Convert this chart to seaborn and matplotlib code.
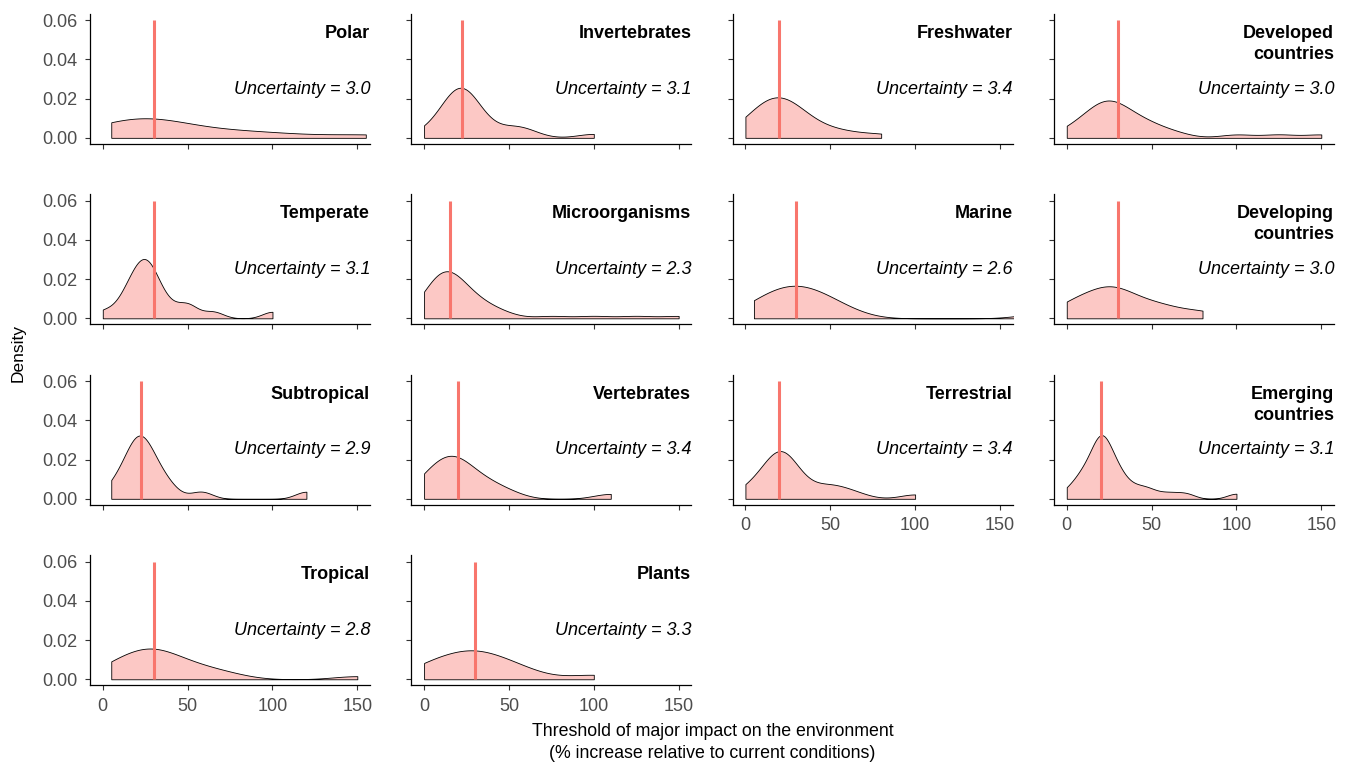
import numpy as np
import pandas as pd
import seaborn as sns
import matplotlib.pyplot as plt
from matplotlib.ticker import FormatStrFormatter

# ---------------- data ----------------
categories = ["Polar", "Invertebrates", "Freshwater", "Developed countries",
              "Temperate", "Microorganisms", "Marine", "Developing countries",
              "Subtropical", "Vertebrates", "Terrestrial", "Emerging countries",
              "Tropical", "Plants"]
panel_titles = ["Polar", "Invertebrates", "Freshwater", "Developed\ncountries",
                "Temperate", "Microorganisms", "Marine", "Developing\ncountries",
                "Subtropical", "Vertebrates", "Terrestrial", "Emerging\ncountries",
                "Tropical", "Plants"]
uncertainty = [3.0, 3.1, 3.4, 3.0, 3.1, 2.3, 2.6, 3.0, 2.9, 3.4, 3.4, 3.1, 2.8, 3.3]
median_line = [30, 22.5, 20, 30, 30, 15, 30, 30, 22.5, 20, 20, 20, 30, 30]
bandwidth = [25, 10, 12, 10, 6, 10, 14, 12, 6.5, 10, 9, 5.5, 14, 15]

polar = [5, 10, 20, 25, 30, 30, 50, 75, 100, 155]
invertebrates = [0, 10, 15, 15, 20, 20, 20, 20, 20, 20, 25, 25, 25, 30, 30, 35,
                 50, 55, 60, 100]
freshwater = [0, 5, 5, 10, 10, 15, 15, 20, 20, 20, 20, 25, 25, 30, 30, 35, 40,
              50, 60, 80]
developed = [0, 5, 10, 15, 15, 20, 20, 20, 25, 25, 25, 30, 30, 30, 35, 40, 40,
             45, 50, 55, 65, 100, 125, 150]
temperate = [0, 10, 15, 15, 20, 20, 20, 25, 25, 25, 25, 30, 30, 30, 35, 40,
             50, 50, 65, 100]
microorganisms = [0, 5, 5, 5, 5, 5, 10, 10, 10, 10, 10, 10, 15, 15, 15,
                  15, 15, 15, 20, 20, 20, 20, 25, 25, 30, 30, 35, 35, 45, 45,
                  75, 100, 125, 150]
marine = [5, 10, 15, 20, 25, 30, 30, 35, 40, 45, 50, 60, 175]
developing = [0, 5, 15, 20, 25, 30, 30, 40, 50, 60, 80]
subtropical = [5, 10, 15, 15, 20, 20, 20, 20, 25, 25, 25, 30, 30, 35, 40, 58, 120]
vertebrates = [0, 0, 5, 10, 10, 15, 15, 20, 20, 20, 25, 30, 35, 40, 50, 110]
terrestrial = [0, 5, 10, 15, 15, 20, 20, 20, 20, 20, 25, 25, 25, 30, 35, 45,
               50, 55, 65, 100]
emerging = [0, 5, 10, 10, 10, 15, 15, 20, 20, 20, 20, 20, 20, 20, 20, 25, 25,
            25, 30, 30, 30, 35, 40, 45, 50, 60, 70, 100]
tropical = [5, 5, 10, 15, 20, 25, 25, 30, 30, 30, 35, 40, 45, 50, 55, 65, 75, 150]
plants = [0, 5, 10, 20, 25, 30, 30, 35, 45, 50, 60, 100]

samples = [polar, invertebrates, freshwater, developed, temperate, microorganisms,
           marine, developing, subtropical, vertebrates, terrestrial, emerging,
           tropical, plants]

x_ticks = [0, 50, 100, 150]
y_ticks = [0.00, 0.02, 0.04, 0.06]

df = pd.DataFrame({
    "category": np.repeat(categories, [len(s) for s in samples]),
    "threshold": np.concatenate([np.asarray(s, dtype=float) for s in samples]),
})

# ---------------- style ----------------
sns.set_theme(style="ticks")
plt.rcParams["font.family"] = ["Liberation Sans", "DejaVu Sans"]
plt.rcParams["axes.linewidth"] = 0.9
plt.rcParams["axes.edgecolor"] = "black"

RED = "#F8766D"
FILL = "#FCC8C5"
TICK_GREY = "#4D4D4D"

g = sns.FacetGrid(df, col="category", col_order=categories, col_wrap=4,
                  sharex=True, sharey=True, height=2, aspect=1.5, despine=True)


def draw_panel(data, color=None, **kws):
    ax = plt.gca()
    cat = data["category"].iloc[0]
    i = categories.index(cat)
    h = bandwidth[i]
    sns.kdeplot(data=data, x="threshold", ax=ax, cut=0, fill=True,
                bw_method=lambda k, h=h: h / np.std(k.dataset, ddof=1),
                facecolor=FILL, edgecolor="black", linewidth=0.6)
    ax.vlines(median_line[i], 0, 0.06, color=RED, linewidth=2.2, zorder=3)
    ax.text(1.0, 0.0577, panel_titles[i], transform=ax.get_yaxis_transform(),
            ha="right", va="top", fontsize=13, fontweight="bold",
            color="black", linespacing=1.3)
    ax.text(1.0, 0.0226, f"Uncertainty = {uncertainty[i]:.1f}",
            transform=ax.get_yaxis_transform(), ha="right", va="baseline",
            fontsize=13, fontstyle="italic", color="black")


g.map_dataframe(draw_panel)
g.set_titles(template="")
g.set_axis_labels("", "")

fig = g.figure
fig.set_size_inches(13.52, 7.64)
fig.subplots_adjust(left=0.0666, right=0.9867, top=0.9817, bottom=0.1028,
                    wspace=0.1476, hspace=0.388)

for ax in g.axes.flat:
    ax.set_xlim(-7.5, 157.5)
    ax.set_ylim(-0.00315, 0.06315)
    ax.set_xticks(x_ticks)
    ax.set_yticks(y_ticks)
    ax.yaxis.set_major_formatter(FormatStrFormatter("%.2f"))
    ax.tick_params(axis="both", length=3.5, width=0.8, color="#333333",
                   labelsize=13, labelcolor=TICK_GREY, pad=5.5)
    ax.set_xlabel("")
    ax.set_ylabel("")

fig.text(0.0133, 0.538, "Density", rotation=90, ha="center", va="center",
         fontsize=12.5, color="black")
fig.text(0.527, 0.0285,
         "Threshold of major impact on the environment\n(% increase relative to current conditions)",
         ha="center", va="center", fontsize=12.8, color="black", linespacing=1.35)

fig.savefig("out.png", dpi=100)
